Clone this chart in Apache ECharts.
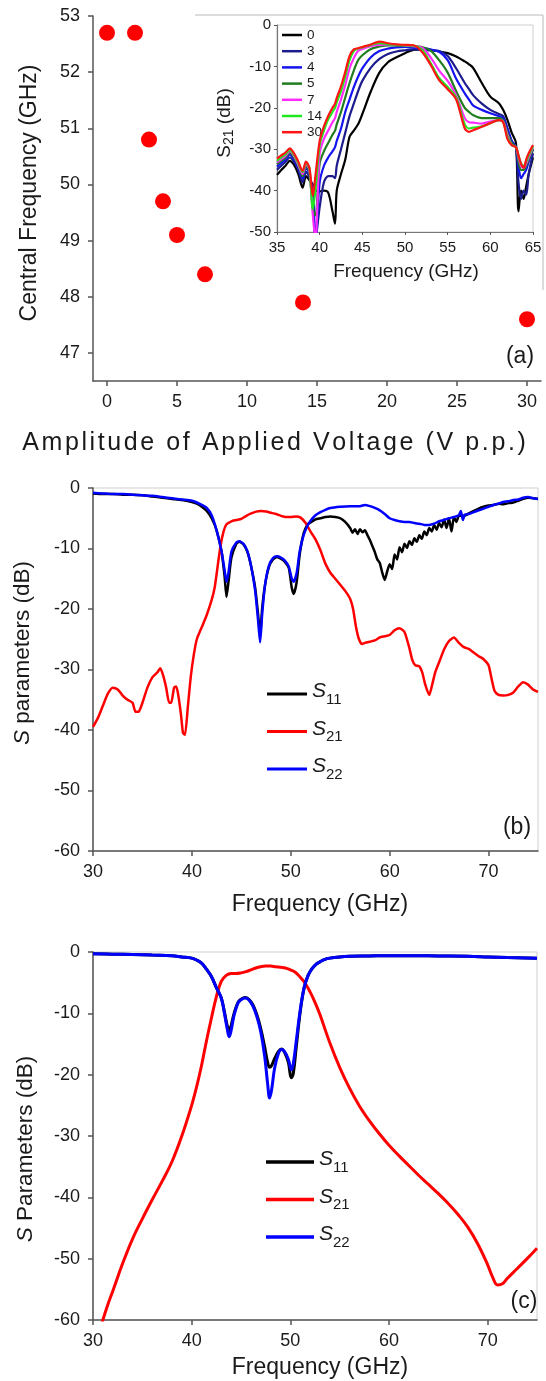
<!DOCTYPE html>
<html><head><meta charset="utf-8">
<script src="https://cdn.jsdelivr.net/npm/echarts@6/dist/echarts.min.js"></script>
<style>html,body{margin:0;padding:0;background:#fff}#c{width:546px;height:1381px}</style>
</head><body><div id="c"></div>
<script>
// ---------- Panel (a): central frequency vs voltage ----------
const aVoltage = [0, 2, 3, 4, 5, 7, 14, 30];
const aCentralFreq = [52.7, 52.7, 50.8, 49.7, 49.1, 48.4, 47.9, 47.6];
const aXTicks = [0, 5, 10, 15, 20, 25, 30];
const aYTicks = [47, 48, 49, 50, 51, 52, 53];

// ---------- Inset: S21 for several voltages ----------
const insetNames = ['0', '3', '4', '5', '7', '14', '30'];
const insetFreq = [35,35.5,36,36.5,37,37.5,38,38.4,38.8,39.2,39.5,40,40.5,41,41.5,41.8,42,42.5,43,43.5,44,44.5,45,46,47,48,49,50,51,52,53,54,55,56,57,57.5,58,59,60,61,61.5,62,62.5,63,63.3,63.6,63.9,64.2,64.5,65];
const inset0  = [-36.2,-35,-34,-32.8,-33.8,-36,-39.3,-36.5,-37.5,-38.5,-40,-40.2,-40,-40.5,-45,-48,-40,-36,-32.5,-27,-25.5,-24,-21.5,-16,-11.5,-9,-7.8,-6.8,-6,-5.9,-6.1,-6.4,-6.8,-7.6,-8.8,-9.5,-10.4,-14,-17.3,-18.9,-20.5,-22.9,-26,-28.5,-45,-40,-42,-39,-36,-32];
const inset3  = [-35,-34,-33,-32,-33,-35,-38,-35.5,-37,-40,-52,-44,-38,-36.5,-36.5,-37,-34,-30,-26,-22,-19,-16,-13.5,-10.3,-8.2,-7,-6.4,-6.1,-5.9,-6,-6.1,-6.3,-7.5,-10.5,-14,-15.5,-17,-19,-20.5,-21.5,-22,-25,-28,-29.5,-38,-42,-40,-41,-36,-31];
const inset4  = [-34.2,-33.3,-32.5,-31.3,-32.5,-34.5,-37,-34.5,-36,-41,-52,-38,-34,-32,-30.5,-29.5,-28,-25,-21,-18,-15,-12.5,-10.5,-7.8,-6.3,-5.7,-5.4,-5.3,-5.5,-5.6,-5.9,-6.5,-8.5,-13,-16.5,-18,-19.5,-20.5,-21.3,-22,-22.5,-25,-28,-29.5,-34,-37,-36,-35,-33,-30];
const inset5  = [-33.6,-32.8,-32,-30.8,-32,-34,-36.5,-34,-35.5,-44.5,-46,-33.5,-30.5,-28.5,-26.5,-25.5,-24,-21,-17.5,-14,-11,-8.5,-7.3,-5.8,-5.2,-4.9,-4.9,-5,-5.1,-5.3,-6.2,-8.5,-11.5,-16,-20,-21,-21.8,-22.5,-22.5,-22.5,-23,-26,-28.5,-29.5,-33,-35,-35,-34,-32.5,-30];
const inset7  = [-33.2,-32.4,-31.6,-30.5,-31.6,-33.8,-36,-33.6,-35,-46,-52,-31,-27.5,-25.5,-23.5,-22.5,-21,-18,-14.5,-10.5,-8,-6.3,-5.8,-5.1,-4.8,-4.7,-4.8,-4.9,-5.1,-5.5,-7.8,-11,-13.5,-17,-22.5,-23.5,-23.6,-23.8,-23.3,-23,-23.3,-26.5,-29,-29.5,-32,-34,-34.5,-33.5,-32,-29.5];
const inset14 = [-32.8,-32,-31.2,-30.2,-31.3,-33.4,-35.5,-33.3,-34.7,-44.5,-40,-29,-25.5,-22.8,-21,-20,-18.7,-16,-12.5,-8.5,-6.3,-5.7,-5.4,-4.8,-4.4,-4.6,-4.8,-4.9,-5,-6,-9.2,-12.8,-15,-17.5,-24,-25,-24.8,-24.5,-23.7,-23,-23.5,-27,-29,-29.5,-31.5,-33.5,-34,-33,-31.5,-29.3];
const inset30 = [-32.3,-31.5,-30.8,-29.8,-31,-33,-35.2,-33,-34.5,-41.3,-36.5,-28,-24.5,-22,-20,-19,-17.6,-14.8,-11.3,-7.5,-5.9,-5.6,-5.3,-4.7,-4.0,-4.4,-4.7,-4.8,-4.9,-6.5,-9.6,-13.3,-15.5,-18,-25,-25.8,-25.4,-24.6,-23.7,-23,-23.5,-27.5,-29,-29.5,-31.5,-33.5,-34.5,-32.5,-31,-29];
const insetValues = [inset0, inset3, inset4, inset5, inset7, inset14, inset30];
const insetColors = ['#000000', '#1c1c8c', '#1414f0', '#1f7d1f', '#ff2cff', '#20e820', '#ff1414'];

// ---------- Panel (b): measured S parameters [GHz, dB] ----------
const bS11 = [[30,-0.9],[31,-1.0],[32,-1.0],[33,-1.1],[34,-1.1],[35,-1.2],[36,-1.4],[37,-1.6],[38,-1.8],[39,-2.0],[40,-2.3],[40.5,-2.6],[41,-3.1],[41.5,-3.8],[42,-5.0],[42.5,-7.0],[43,-10.5],[43.3,-14.5],[43.5,-18],[43.7,-15.5],[44,-11.5],[44.5,-9.2],[44.8,-8.9],[45.2,-9.3],[45.6,-10.5],[46,-13],[46.4,-16.5],[46.7,-21],[46.9,-24.5],[47.1,-20],[47.4,-16],[47.8,-13],[48.2,-11.8],[48.6,-11.4],[49,-11.7],[49.4,-12.2],[49.8,-13.2],[50.1,-16.5],[50.3,-17.5],[50.6,-15.5],[50.9,-11],[51.3,-7.5],[51.7,-6],[52,-5.7],[52.5,-5.2],[53,-5.0],[53.5,-4.8],[54,-4.7],[54.5,-4.8],[55,-5.0],[55.5,-5.6],[56,-6.6],[56.25,-7.4],[56.5,-6.8],[56.75,-7.6],[57,-6.8],[57.25,-7.3],[57.5,-7.0],[57.75,-7.8],[58,-8.6],[58.25,-9.6],[58.5,-10.6],[58.75,-11.8],[59,-12.4],[59.25,-14.0],[59.5,-15.2],[59.75,-13.8],[60,-12.6],[60.25,-13.4],[60.5,-11.0],[60.75,-11.8],[61,-9.8],[61.25,-10.6],[61.5,-9.2],[61.75,-9.9],[62,-8.8],[62.25,-9.4],[62.5,-8.3],[62.75,-8.9],[63,-7.8],[63.25,-8.4],[63.5,-7.2],[63.75,-7.8],[64,-6.6],[64.25,-7.2],[64.5,-6.1],[64.75,-6.9],[65,-5.8],[65.25,-6.5],[65.5,-5.2],[65.75,-6.6],[66,-5.0],[66.25,-7.2],[66.5,-4.8],[66.75,-5.6],[67,-4.6],[67.5,-4.6],[68,-4.2],[68.5,-3.8],[69,-3.4],[69.5,-3.1],[70,-2.9],[70.5,-2.8],[71,-2.6],[71.5,-2.7],[72,-2.5],[72.5,-2.4],[73,-2.1],[73.5,-1.8],[74,-1.6],[74.5,-1.7],[75,-1.8]];
const bS21 = [[30,-39.5],[30.5,-38],[31,-36],[31.5,-34],[32,-33],[32.5,-33.3],[33,-34.3],[33.5,-35],[34,-35.5],[34.3,-37],[34.6,-37],[35,-35.5],[35.5,-33],[36,-31.3],[36.5,-30.5],[36.8,-29.8],[37.1,-31],[37.4,-33],[37.7,-35.5],[37.9,-35.5],[38.2,-33],[38.4,-32.8],[38.6,-34],[38.9,-37.5],[39.1,-40.5],[39.3,-40.8],[39.6,-36],[39.9,-31],[40.2,-27.5],[40.5,-25],[41,-23],[41.5,-21],[42,-18.5],[42.3,-16.5],[42.6,-13],[42.9,-9.5],[43.2,-7.2],[43.5,-6],[44,-5.5],[44.5,-5.3],[45,-5.1],[45.5,-4.6],[46,-4.2],[46.5,-3.9],[47,-3.8],[47.5,-3.9],[48,-4.1],[48.5,-4.3],[49,-4.6],[49.5,-4.8],[50,-4.8],[50.5,-4.7],[51,-4.9],[51.5,-5.8],[52,-7.2],[52.5,-8.5],[53,-10.3],[53.5,-12.5],[54,-14],[54.5,-15],[55,-16],[55.5,-17],[56,-18.3],[56.3,-20],[56.6,-23],[56.9,-25],[57.2,-25.8],[57.5,-25.6],[58,-25.4],[58.5,-25.2],[59,-24.7],[59.5,-24.5],[60,-24.3],[60.5,-23.5],[61,-23.2],[61.5,-23.8],[62,-26.5],[62.3,-28.5],[62.6,-29.3],[63,-29.5],[63.3,-30.5],[63.6,-32.5],[64,-34.2],[64.3,-32.5],[64.6,-30.5],[65,-28.8],[65.5,-26.7],[66,-25.3],[66.5,-24.7],[67,-25.6],[67.5,-26.3],[68,-26.6],[68.5,-27.2],[69,-27.8],[69.5,-28.3],[70,-29.3],[70.3,-31.5],[70.6,-33.5],[71,-34.2],[71.5,-34.3],[72,-34.2],[72.5,-33.8],[73,-32.8],[73.5,-32.1],[74,-32.5],[74.5,-33.3],[75,-33.7]];
const bS22 = [[30,-0.8],[31,-0.9],[32,-1.0],[33,-1.0],[34,-1.1],[35,-1.2],[36,-1.3],[37,-1.5],[38,-1.7],[39,-1.9],[40,-2.1],[40.5,-2.4],[41,-2.8],[41.5,-3.3],[42,-4.5],[42.5,-7.0],[43,-10.5],[43.3,-13.5],[43.5,-15.5],[43.7,-14],[44,-10.5],[44.5,-9.0],[44.8,-8.8],[45.2,-9.2],[45.6,-10.4],[46,-13],[46.4,-17],[46.7,-22],[46.9,-25.5],[47.1,-21],[47.4,-16],[47.8,-12.8],[48.2,-11.6],[48.6,-11.3],[49,-11.5],[49.4,-12],[49.8,-13],[50.1,-15],[50.3,-15.5],[50.6,-14],[50.9,-10.5],[51.3,-7.8],[51.7,-6.2],[52,-5.4],[52.5,-4.5],[53,-4.0],[53.5,-3.6],[54,-3.3],[55,-3.1],[56,-3.0],[57,-3.0],[57.5,-2.8],[58,-3.0],[58.5,-3.3],[59,-3.7],[59.5,-4.3],[60,-5.0],[60.5,-5.3],[61,-5.5],[61.5,-5.6],[62,-5.6],[62.5,-5.8],[63,-5.9],[63.5,-6.1],[64,-6.1],[64.5,-5.9],[65,-5.5],[65.5,-5.3],[66,-5.0],[66.5,-4.8],[67,-4.5],[67.2,-3.8],[67.4,-5.3],[67.6,-4.4],[68,-4.3],[68.5,-4.0],[69,-3.7],[69.5,-3.4],[70,-3.1],[70.5,-2.8],[71,-2.6],[71.5,-2.3],[72,-2.2],[72.5,-2.0],[73,-1.9],[73.5,-1.6],[74,-1.5],[74.5,-1.7],[75,-1.8]];

// ---------- Panel (c): simulated S parameters [GHz, dB] ----------
const cS11 = [[30,-0.3],[32,-0.35],[34,-0.4],[36,-0.5],[38,-0.6],[39,-0.8],[40,-1.0],[40.5,-1.3],[41,-1.8],[41.5,-2.8],[42,-4.0],[42.5,-5.8],[43,-7.5],[43.3,-9.6],[43.6,-12.0],[43.8,-12.8],[44,-12.0],[44.3,-10.0],[44.7,-8.2],[45,-7.7],[45.4,-7.4],[45.8,-7.7],[46.2,-8.6],[46.6,-10.2],[47,-12.5],[47.4,-15.5],[47.7,-18.0],[47.9,-18.8],[48.1,-18.5],[48.4,-17.4],[48.8,-16.2],[49.1,-15.8],[49.4,-16.3],[49.8,-18.0],[50.1,-20.5],[50.3,-19.8],[50.6,-15.5],[51,-9.8],[51.4,-5.8],[51.8,-3.8],[52.2,-2.7],[52.6,-2.0],[53,-1.6],[53.5,-1.2],[54,-1.0],[55,-0.8],[56,-0.7],[58,-0.65],[60,-0.6],[62,-0.6],[65,-0.65],[68,-0.7],[70,-0.8],[72,-0.9],[75,-1.0]];
const cS21 = [[30,-66],[30.5,-63],[31,-60],[31.5,-57.5],[32,-55.3],[33,-50.8],[34,-46.8],[35,-43.5],[36,-40.4],[37,-37.4],[38,-34.2],[39,-30],[40,-25],[40.5,-22],[41,-18.5],[41.5,-14.5],[42,-10.8],[42.5,-7.3],[43,-4.8],[43.5,-3.8],[44,-3.5],[44.5,-3.5],[45,-3.4],[45.5,-3.2],[46,-2.9],[46.5,-2.6],[47,-2.4],[47.5,-2.3],[48,-2.3],[48.5,-2.4],[49,-2.5],[49.5,-2.6],[50,-2.9],[50.5,-3.3],[51,-4.1],[51.5,-5.1],[52,-6.5],[52.5,-8.2],[53,-10.2],[54,-14.8],[55,-18.8],[56,-22.2],[57,-25.1],[58,-27.5],[59,-29.6],[60,-31.5],[61,-33.2],[62,-34.8],[63,-36.4],[64,-37.9],[65,-39.4],[66,-41],[67,-42.8],[68,-44.9],[69,-47.6],[70,-51],[70.5,-53],[71,-54.3],[71.5,-54.1],[72,-53.2],[73,-51.6],[74,-50],[75,-48.3]];
const cS22 = [[30,-0.3],[32,-0.35],[34,-0.4],[36,-0.5],[38,-0.6],[39,-0.8],[40,-1.0],[40.5,-1.3],[41,-1.8],[41.5,-2.8],[42,-4.0],[42.5,-5.8],[43,-7.5],[43.3,-9.8],[43.6,-12.5],[43.8,-13.8],[44,-12.8],[44.3,-10.3],[44.7,-8.3],[45,-7.8],[45.4,-7.5],[45.8,-7.8],[46.2,-8.8],[46.6,-10.5],[47,-13],[47.4,-17],[47.7,-21.5],[47.9,-23.8],[48.1,-22.5],[48.4,-19],[48.8,-16.5],[49.1,-15.9],[49.4,-16.2],[49.8,-17.5],[50.1,-19.2],[50.3,-18.2],[50.6,-14.5],[51,-9.5],[51.4,-5.8],[51.8,-3.8],[52.2,-2.7],[52.6,-2.0],[53,-1.6],[53.5,-1.2],[54,-1.0],[55,-0.8],[56,-0.7],[58,-0.65],[60,-0.6],[62,-0.6],[65,-0.65],[68,-0.7],[70,-0.8],[72,-0.9],[75,-1.0]];
const sNames = ['S11', 'S21', 'S22'];
const sColors = ['#000000', '#ff0000', '#0000ff'];
const bcXTicks = [30, 40, 50, 60, 70];

// ---------- build option ----------
const FONT = 'Liberation Sans, Arial, sans-serif';
const TXT = '#1a1a1a';
const AX = '#555555';

function valueAxis(gridIndex, o) {
  return Object.assign({
    type: 'value', gridIndex,
    axisLine: { show: true, onZero: false, lineStyle: { color: AX, width: 1.5 } },
    axisTick: { show: true, inside: false, length: 5, lineStyle: { color: AX, width: 1.5 } },
    axisLabel: { color: TXT, fontFamily: FONT, fontSize: 18, margin: 13 },
    splitLine: { show: false }
  }, o);
}
function onlyTicks(list) {
  return v => (list.indexOf(v) >= 0 ? String(v) : '');
}

const chart = echarts.init(document.getElementById('c'), null, { renderer: 'canvas' });

const series = [];
series.push({
  type: 'scatter', xAxisIndex: 0, yAxisIndex: 0,
  data: aVoltage.map((v, i) => [v, aCentralFreq[i]]),
  symbolSize: 16, itemStyle: { color: '#ff0000', opacity: 1 }, z: 3
});
insetNames.forEach((n, k) => {
  series.push({
    type: 'line', name: n, xAxisIndex: 1, yAxisIndex: 1,
    data: insetFreq.map((f, i) => [f, insetValues[k][i]]),
    showSymbol: false, symbol: 'none', smooth: 0.3, clip: true,
    lineStyle: { color: insetColors[k], width: 2.2 }, itemStyle: { color: insetColors[k] }, z: 3 + k
  });
});
[bS11, bS21, bS22].forEach((d, k) => {
  series.push({
    type: 'line', name: sNames[k], xAxisIndex: 2, yAxisIndex: 2, data: d,
    showSymbol: false, symbol: 'none', smooth: 0.2, clip: true,
    lineStyle: { color: sColors[k], width: 2.5 }, itemStyle: { color: sColors[k] }, z: [3, 4, 5][k]
  });
});
[cS11, cS21, cS22].forEach((d, k) => {
  series.push({
    type: 'line', name: sNames[k], xAxisIndex: 3, yAxisIndex: 3, data: d,
    showSymbol: false, symbol: 'none', smooth: 0.4, clip: true,
    lineStyle: { color: sColors[k], width: 3 }, itemStyle: { color: sColors[k] }, z: [4, 3, 5][k]
  });
});

const sRich = {
  s: { fontFamily: FONT, fontSize: 21, fontStyle: 'italic', color: TXT, lineHeight: 26, verticalAlign: 'top' },
  sub: { fontFamily: FONT, fontSize: 15, color: TXT, lineHeight: 15, verticalAlign: 'bottom' }
};
const sFormatter = name => '{s|S}{sub|' + name.slice(1) + '}';

function gText(text, x, y, size, rot, rich) {
  return {
    type: 'text', x, y, rotation: rot || 0, z: 10,
    style: { text, fontFamily: FONT, fontSize: size, fill: TXT, align: 'center', verticalAlign: 'middle', rich: rich }
  };
}
// slightly spaced-out title: every character is its own rich token with side padding
const aXTitle = 'Amplitude of Applied Voltage (V p.p.)';
const spacedTitle = aXTitle.split('').map(ch => '{c|' + ch + '}').join('');

const option = {
  animation: false,
  backgroundColor: '#ffffff',
  grid: [
    { left: 93, top: 16, width: 448, height: 365 },
    { left: 277, top: 25, width: 256, height: 207, show: true, borderColor: '#cfcfcf', borderWidth: 1, backgroundColor: 'transparent' },
    { left: 93, top: 488, width: 445, height: 363, show: true, borderColor: '#cfcfcf', borderWidth: 1, backgroundColor: 'transparent' },
    { left: 93, top: 952, width: 444, height: 368, show: true, borderColor: '#cfcfcf', borderWidth: 1, backgroundColor: 'transparent' }
  ],
  xAxis: [
    valueAxis(0, { min: -1, max: 31,
      axisTick: { show: true, length: 5, lineStyle: { color: AX, width: 1.5 }, customValues: aXTicks },
      axisLabel: { color: TXT, fontFamily: FONT, fontSize: 18, margin: 12, customValues: aXTicks, formatter: onlyTicks(aXTicks) } }),
    valueAxis(1, { min: 35, max: 65, interval: 5,
      axisTick: { show: true, length: 3, lineStyle: { color: AX, width: 1 } },
      axisLine: { show: true, onZero: false, lineStyle: { color: '#777', width: 1.2 } },
      axisLabel: { color: TXT, fontFamily: FONT, fontSize: 15, margin: 8 } }),
    valueAxis(2, { min: 30, max: 75,
      axisTick: { show: true, length: 5, lineStyle: { color: AX, width: 1.5 }, customValues: bcXTicks },
      axisLabel: { color: TXT, fontFamily: FONT, fontSize: 18, margin: 12, customValues: bcXTicks, formatter: onlyTicks(bcXTicks) } }),
    valueAxis(3, { min: 30, max: 75,
      axisTick: { show: true, length: 5, lineStyle: { color: AX, width: 1.5 }, customValues: bcXTicks },
      axisLabel: { color: TXT, fontFamily: FONT, fontSize: 18, margin: 12, customValues: bcXTicks, formatter: onlyTicks(bcXTicks) } })
  ],
  yAxis: [
    valueAxis(0, { min: 46.5, max: 53,
      axisTick: { show: true, length: 5, lineStyle: { color: AX, width: 1.5 }, customValues: aYTicks },
      axisLabel: { color: TXT, fontFamily: FONT, fontSize: 18, margin: 13, customValues: aYTicks, formatter: onlyTicks(aYTicks) } }),
    valueAxis(1, { min: -50, max: 0, interval: 10,
      axisTick: { show: true, length: 3, lineStyle: { color: AX, width: 1 } },
      axisLine: { show: true, onZero: false, lineStyle: { color: '#777', width: 1.2 } },
      axisLabel: { color: TXT, fontFamily: FONT, fontSize: 15, margin: 6 } }),
    valueAxis(2, { min: -60, max: 0, interval: 10 }),
    valueAxis(3, { min: -60, max: 0, interval: 10 })
  ],
  legend: [
    { data: insetNames, left: 282, top: 28, orient: 'vertical', padding: 0, itemGap: 2.2,
      itemWidth: 20, itemHeight: 2.5, icon: 'rect', selectedMode: false,
      textStyle: { fontFamily: FONT, fontSize: 13.5, color: TXT, lineHeight: 13.5 } },
    { data: sNames, left: 267, top: 681, orient: 'vertical', padding: 0, itemGap: 11.5,
      itemWidth: 40, itemHeight: 3, icon: 'rect', selectedMode: false,
      formatter: sFormatter, textStyle: { rich: sRich } },
    { data: sNames, left: 266, top: 1149, orient: 'vertical', padding: 0, itemGap: 11.5,
      itemWidth: 48, itemHeight: 3.5, icon: 'rect', selectedMode: false,
      formatter: sFormatter, textStyle: { rich: sRich } }
  ],
  graphic: [
    { type: 'line', shape: { x1: 195, y1: 15, x2: 543, y2: 15 }, style: { stroke: '#d0d0d0', lineWidth: 1.5 }, z: 1 },
    { type: 'line', shape: { x1: 543, y1: 15, x2: 543, y2: 290 }, style: { stroke: '#d0d0d0', lineWidth: 1.5 }, z: 1 },
    gText('Central Frequency (GHz)', 30, 193, 23, Math.PI / 2),
    gText(spacedTitle, 274, 443, 25, 0, { c: { fontFamily: FONT, fontSize: 25, fill: TXT, color: TXT, padding: [0, 1.3, 0, 1.3] } }),
    gText('(a)', 520, 357, 23, 0),
    gText('S{sub|21} (dB)', 225, 123, 19, Math.PI / 2, { sub: { fontFamily: FONT, fontSize: 14, fill: TXT, color: TXT, padding: [9, 0, 0, 0] } }),
    gText('Frequency (GHz)', 406, 272, 19, 0),
    gText('{i|S} parameters (dB)', 23, 653, 22.5, Math.PI / 2, { i: { fontFamily: FONT, fontSize: 22.5, fontStyle: 'italic', fill: TXT, color: TXT } }),
    gText('Frequency (GHz)', 320, 905, 23, 0),
    gText('(b)', 517, 828, 23, 0),
    gText('{i|S} Parameters (dB)', 26, 1149, 22.5, Math.PI / 2, { i: { fontFamily: FONT, fontSize: 22.5, fontStyle: 'italic', fill: TXT, color: TXT } }),
    gText('Frequency (GHz)', 320, 1368, 23, 0),
    gText('(c)', 524, 1302, 23, 0)
  ],
  series
};
chart.setOption(option);
</script>
</body></html>
